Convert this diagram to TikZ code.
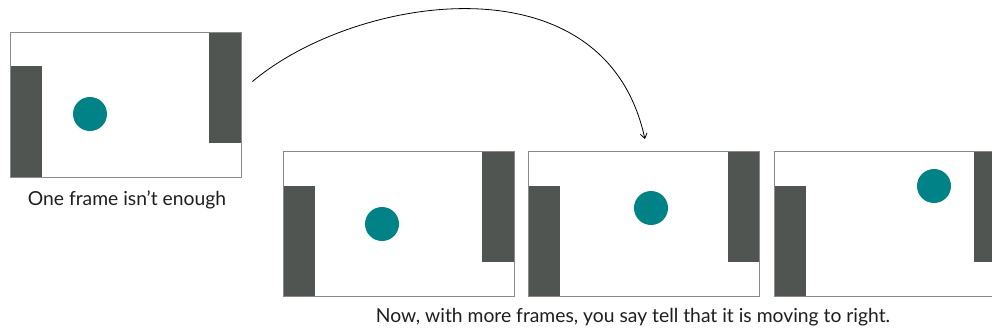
\documentclass[tikz,border=0pt]{standalone}
\usepackage{fontspec}
\setmainfont{Lato}
\usepackage{tikz}
\usetikzlibrary{arrows.meta,positioning,backgrounds,calc}
\definecolor{wallgray}{HTML}{505551}
\definecolor{ballteal}{HTML}{008286}
\definecolor{framegray}{HTML}{8A8A8A}
\definecolor{captext}{HTML}{1E1E1E}

\tikzset{
  frm/.style={draw=framegray, line width=0.9pt, minimum width=231pt,
    minimum height=145pt, inner sep=0pt},
  wall/.style={fill=wallgray},
  ball/.style={circle, fill=ballteal, minimum size=34pt, inner sep=0pt},
  captxt/.style={font=\fontsize{19.3}{22}\selectfont, text=captext,
    anchor=base, inner sep=0pt}
}

\begin{document}
\begin{tikzpicture}[x=1pt,y=-1pt]
  \useasboundingbox (0,0) rectangle (992,332);
  \clip (0,0) rectangle (992,332);

  % single frame
  \node[frm] (one) at (125.5,104.5) {};
  \node[captxt] (onecap) at (127,205) {One frame isn't enough};

  % sequence of frames
  \node[frm] (seqa) at (398.5,224) {};
  \node[frm, right=14pt of seqa] (seqb) {};
  \node[frm, right=14pt of seqb] (seqc) {};
  \node[captxt] (seqcap) at (633,322)
    {Now, with more frames, you say tell that it is moving to right.};

  \begin{scope}[on background layer]
    \foreach \f in {one,seqa,seqb,seqc} {
      \fill[wall] (\f.south west) rectangle ++(32,-111);
      \fill[wall] (\f.north east) rectangle ++(-32,111);
    }
  \end{scope}

  \node[ball] (balla) at (90,114) {};
  \node[ball] (ballb) at (382,224) {};
  \node[ball] (ballc) at (651,208) {};
  \node[ball] (balld) at (934,186) {};

  \coordinate (arcstart) at ($(one.east)+(11,-23)$);
  \coordinate (arcend) at ($(seqb.north)+(0.5,-12)$);
  \draw[-{Straight Barb[length=5pt,width=7pt]}, line width=0.8pt]
    (arcstart) .. controls (355,-5) and (605,-45) .. (arcend);
\end{tikzpicture}
\end{document}
